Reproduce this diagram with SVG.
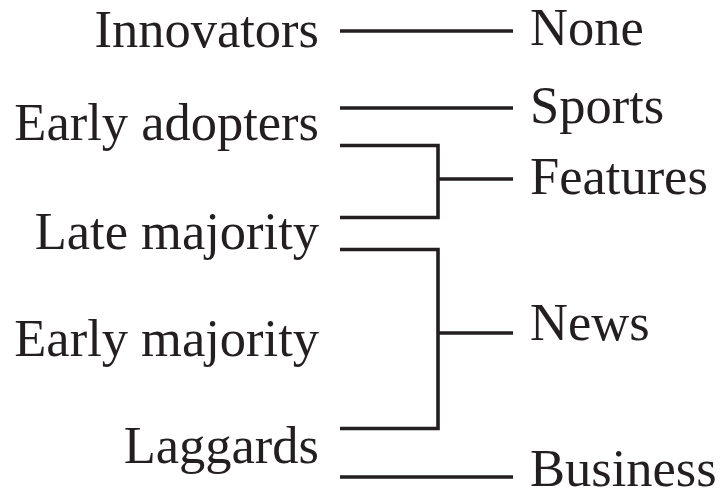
<svg xmlns="http://www.w3.org/2000/svg" width="721" height="495" viewBox="0 0 721 495">
<style>
text{font-family:"Liberation Serif","Times New Roman",serif;font-size:52.5px;fill:#231f20}
.l{text-anchor:end}
.c{fill:none;stroke:#231f20;stroke-width:3.6;stroke-linecap:butt;stroke-linejoin:miter}
</style>
<rect width="721" height="495" fill="#fff"/>
<g id="innovators"><text class="l" x="319" y="47">Innovators</text></g>
<g id="early-adopters"><text class="l" x="319" y="140">Early adopters</text></g>
<g id="late-majority"><text class="l" x="319" y="249">Late majority</text></g>
<g id="early-majority"><text class="l" x="319" y="356">Early majority</text></g>
<g id="laggards"><text class="l" x="319" y="463">Laggards</text></g>
<g id="none"><text x="530" y="45">None</text></g>
<g id="sports"><text x="530" y="123">Sports</text></g>
<g id="features"><text x="530" y="194">Features</text></g>
<g id="news"><text x="530" y="340">News</text></g>
<g id="business"><text x="530" y="486">Business</text></g>
<g id="connectors">
<path class="c" d="M340 31H513"/>
<path class="c" d="M340 108H513"/>
<path class="c" d="M340 145.5H438V217.5H340M438 179H513"/>
<path class="c" d="M340 249.5H438V428.5H340M438 333H513"/>
<path class="c" d="M340 477H513"/>
</g>
</svg>
